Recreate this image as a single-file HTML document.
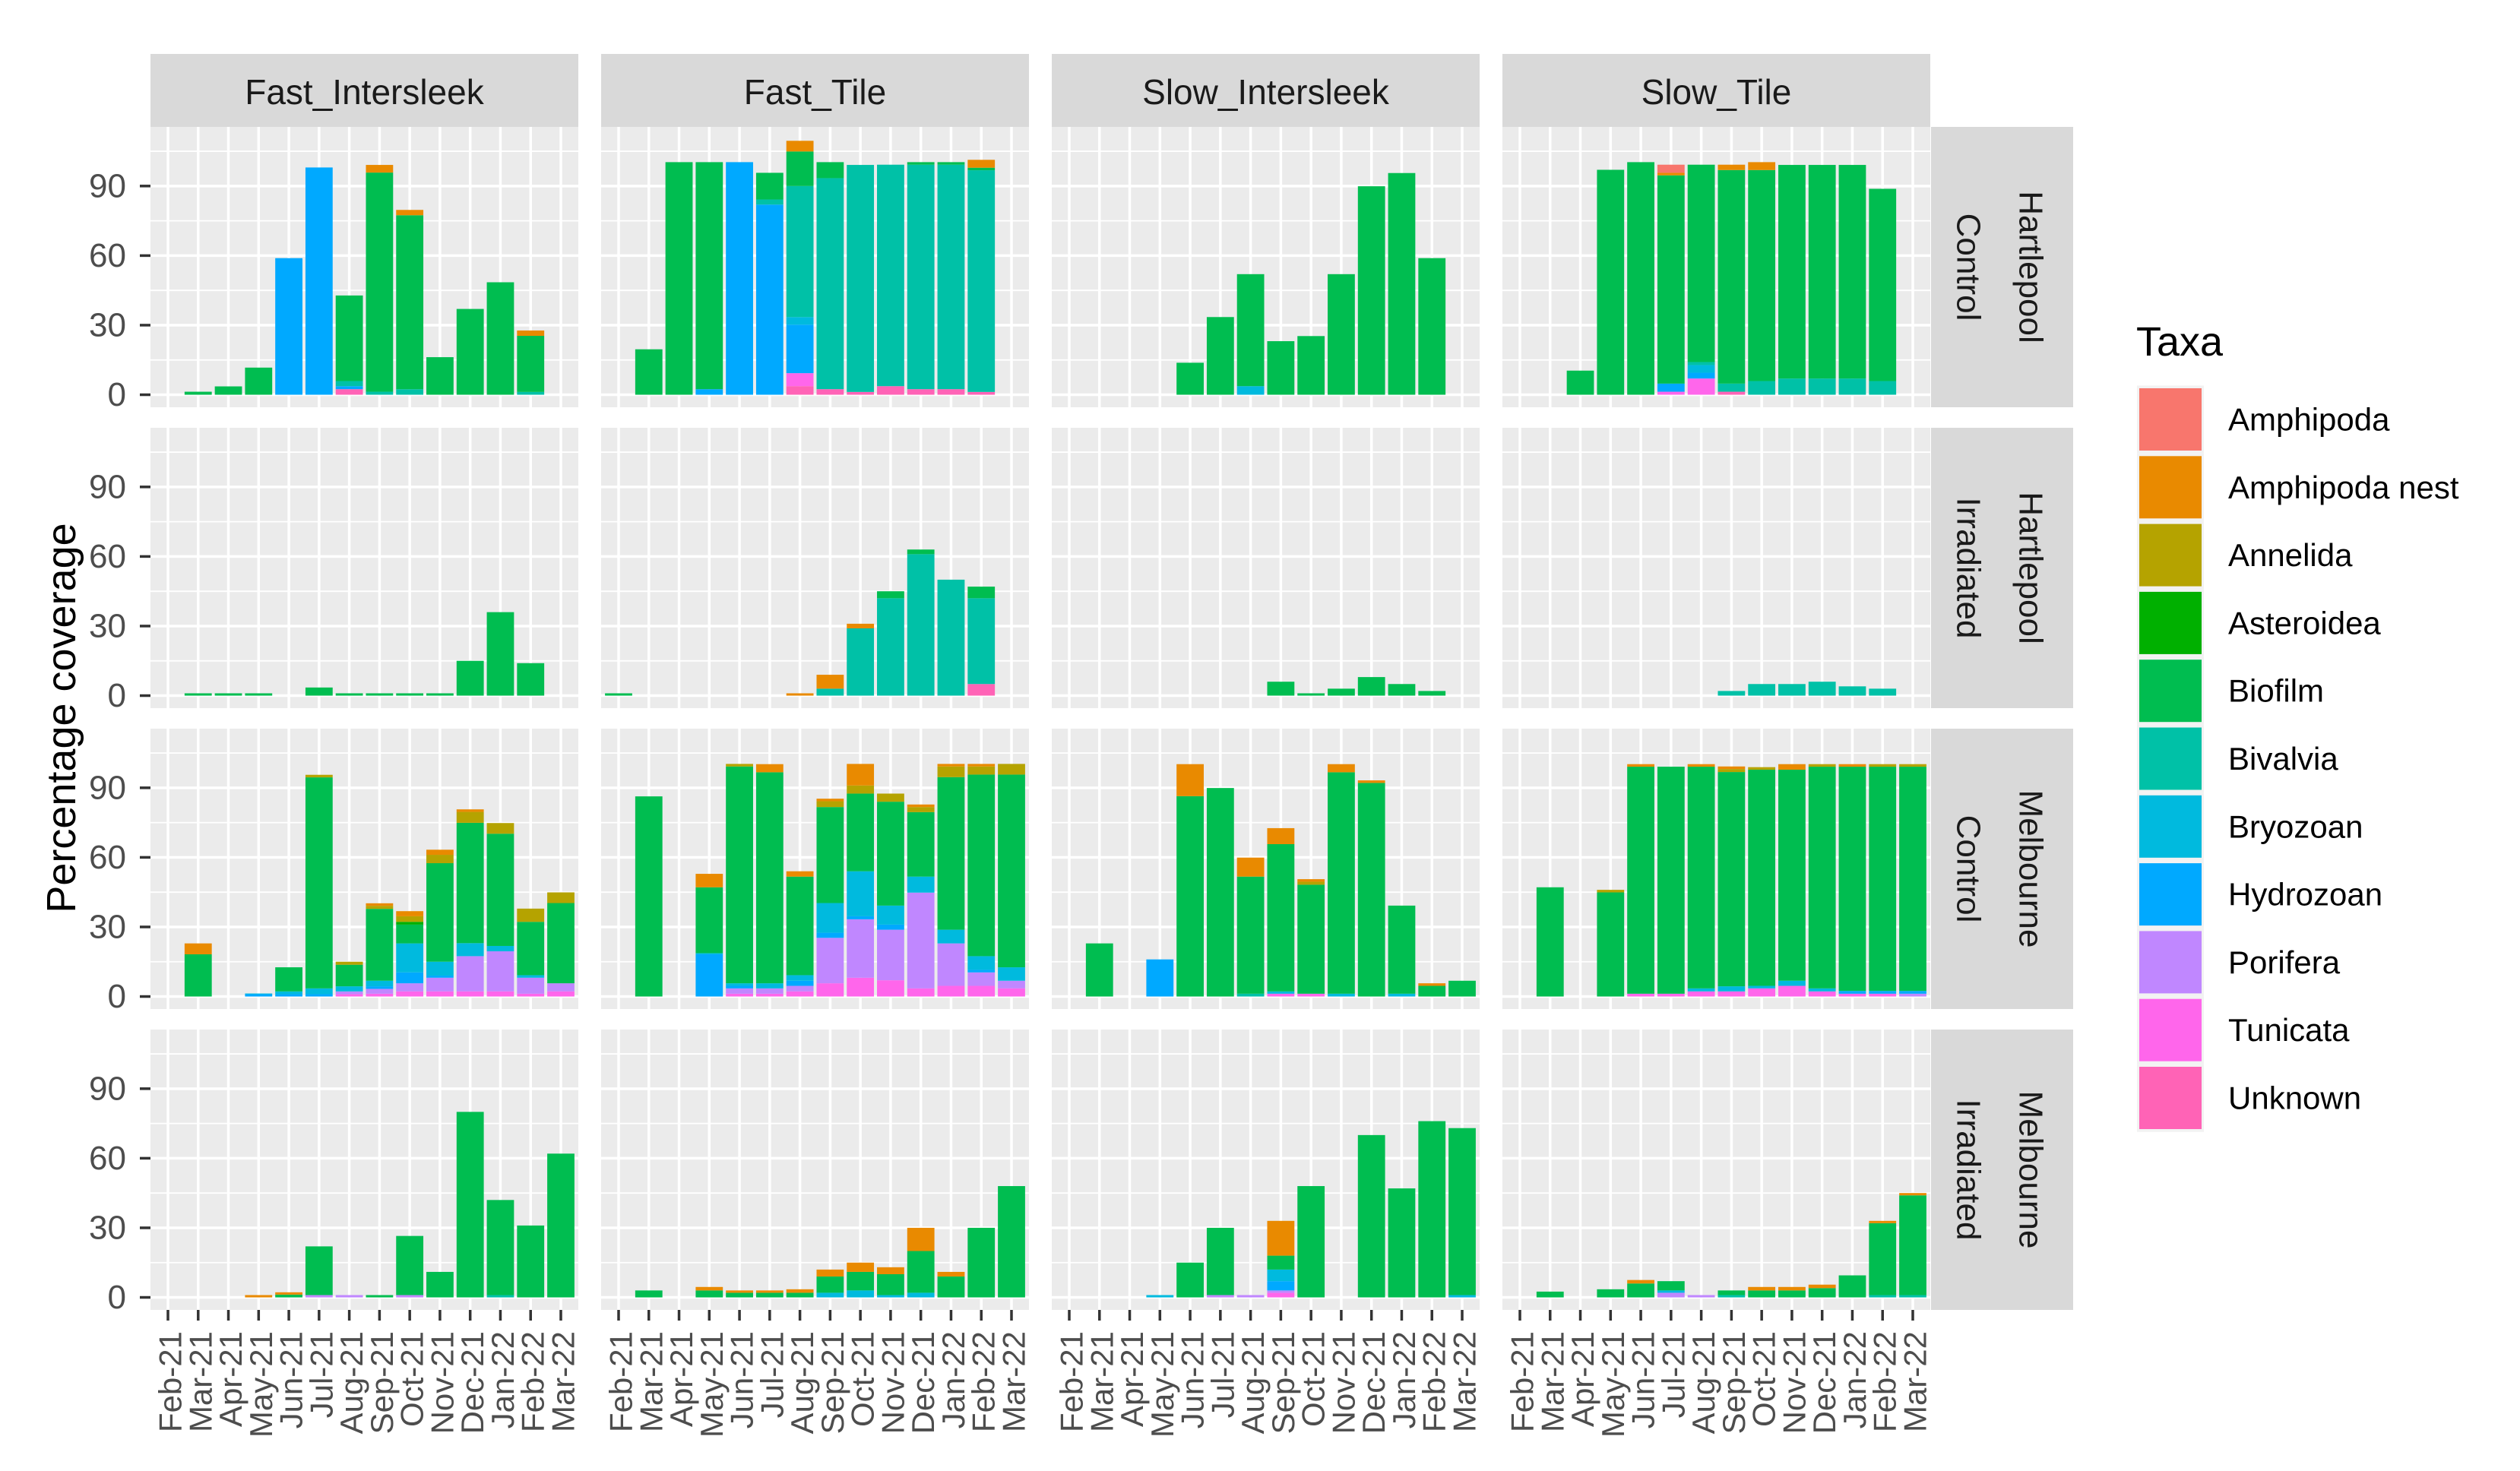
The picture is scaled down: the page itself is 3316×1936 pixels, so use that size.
<!DOCTYPE html>
<html><head><meta charset="utf-8"><title>Percentage coverage by taxa</title>
<style>
html,body{margin:0;padding:0;background:#fff;}
svg{display:block;font-family:"Liberation Sans",Arial,sans-serif;}
</style></head>
<body>
<svg id="chart" xmlns="http://www.w3.org/2000/svg" width="3316" height="1936" viewBox="0 0 3316 1936">
<rect x="0" y="0" width="3316" height="1936" fill="#fff"/>
<g id="panels"></g>
<text x="81" y="945" transform="rotate(-90 81 945)" text-anchor="middle" dominant-baseline="central" font-size="54" fill="#000">Percentage coverage</text>
<g id="legend"></g>
</svg>
<script>
const months = ["Feb-21","Mar-21","Apr-21","May-21","Jun-21","Jul-21","Aug-21","Sep-21","Oct-21","Nov-21","Dec-21","Jan-22","Feb-22","Mar-22"];
const taxa = ["Amphipoda","Amphipoda nest","Annelida","Asteroidea","Biofilm","Bivalvia","Bryozoan","Hydrozoan","Porifera","Tunicata","Unknown"];
const taxaColors = ["#F8766D","#E98A00","#B5A300","#00B000","#00BD50","#00C1A7","#00BADE","#00A9FF","#C087FF","#FF66EB","#FF63B6"];
const columns = ["Fast_Intersleek","Fast_Tile","Slow_Intersleek","Slow_Tile"];
const rowSites = ["Hartlepool","Hartlepool","Melbourne","Melbourne"];
const rowTreatments = ["Control","Irradiated","Control","Irradiated"];
const yTicks = [0,30,60,90];

// Row 1: Hartlepool Control
const hcFastInter = [
 ["Unknown",[0,0,0,0,0,0,2.4,0,0,0,0,0,0,0]],
 ["Hydrozoan",[0,0,0,0,58.9,98,1.3,0,0,0,0,0,0,0]],
 ["Bivalvia",[0,0,0,0,0,0,2.2,1.3,2.4,0,0,0,1.2,0]],
 ["Biofilm",[0,1.3,3.6,11.7,0,0,36.9,94.5,75,16.2,37,48.5,24.2,0]],
 ["Amphipoda nest",[0,0,0,0,0,0,0,3.3,2.3,0,0,0,2.3,0]]];
const hcFastTile = [
 ["Unknown",[0,0,0,0,0,0,3.7,2.4,1.2,3.7,2.4,2.4,1.2,0]],
 ["Tunicata",[0,0,0,0,0,0,5.6,0,0,0,0,0,0,0]],
 ["Hydrozoan",[0,0,0,2.4,100.3,82,20.9,0,0,0,0,0,0,0]],
 ["Bryozoan",[0,0,0,0,0,0,3.3,0,0,0,0,0,0,0]],
 ["Bivalvia",[0,0,0,0,0,2.2,56.5,91,97.9,95.5,96.8,96.8,95.6,0]],
 ["Biofilm",[0,19.6,100.3,97.9,0,11.5,14.9,6.9,0,0,1.1,1.1,1.1,0]],
 ["Amphipoda nest",[0,0,0,0,0,0,4.6,0,0,0,0,0,3.4,0]]];
const hcSlowInter = [
 ["Bryozoan",[0,0,0,0,0,0,3.7,0,0,0,0,0,0,0]],
 ["Biofilm",[0,0,0,0,13.8,33.5,48.3,23.1,25.3,52,89.9,95.6,58.9,0]]];
const hcSlowTile = [
 ["Unknown",[0,0,0,0,0,0,0,1.3,0,0,0,0,0,0]],
 ["Tunicata",[0,0,0,0,0,1.3,7,0,0,0,0,0,0,0]],
 ["Hydrozoan",[0,0,0,0,0,3.5,2.5,0,0,0,0,0,0,0]],
 ["Bryozoan",[0,0,0,0,0,0,3.3,0,0,0,0,0,0,0]],
 ["Bivalvia",[0,0,0,0,0,0,1.3,3.5,5.9,7,7,7,5.9,0]],
 ["Biofilm",[0,0,10.4,97,100.3,89.8,85.1,92.1,91,92.1,92.1,92.1,82.9,0]],
 ["Amphipoda nest",[0,0,0,0,0,1.1,0,2.3,3.4,0,0,0,0,0]],
 ["Amphipoda",[0,0,0,0,0,3.5,0,0,0,0,0,0,0,0]]];

// Row 2: Hartlepool Irradiated
const hiFastInter = [
 ["Biofilm",[0,1,1,1,0,3.5,1,1,1,1,15,36,14,0]]];
const hiFastTile = [
 ["Unknown",[0,0,0,0,0,0,0,0,0,0,0,0,5,0]],
 ["Bivalvia",[0,0,0,0,0,0,0,3,29,42,61,50,37,0]],
 ["Biofilm",[1,0,0,0,0,0,0,0,0,3,2,0,5,0]],
 ["Amphipoda nest",[0,0,0,0,0,0,1,6,2,0,0,0,0,0]]];
const hiSlowInter = [
 ["Biofilm",[0,0,0,0,0,0,0,6,1,3,8,5,2,0]]];
const hiSlowTile = [
 ["Bivalvia",[0,0,0,0,0,0,0,2,5,5,6,4,3,0]]];

// Row 3: Melbourne Control
const mcFastInter = [
 ["Tunicata",[0,0,0,0,0,0,1,1.2,2.2,2.2,2.2,2.2,1.2,2.2]],
 ["Porifera",[0,0,0,0,0,0,1.2,2.1,3.5,5.9,15.2,17.3,6.9,3.5]],
 ["Hydrozoan",[0,0,0,1,1,1,0,1.1,4.7,0.9,0,0,0,0]],
 ["Bryozoan",[0,0,0,0.3,1.2,2.5,2.2,2.4,12.5,6,5.6,2.3,1.1,0]],
 ["Biofilm",[0,18.2,0,0,10.4,91,9.3,31,8.1,42.5,51.9,48.4,23,34.6]],
 ["Asteroidea",[0,0,0,0,0,0,0,0,1.2,0,0,0,0,0]],
 ["Annelida",[0,0,0,0,0,1.1,1.3,1.3,2.4,3.6,4.7,4.6,5.7,4.6]],
 ["Amphipoda nest",[0,4.7,0,0,0,0,0,1.1,2.2,2.2,1.1,0,0,0]]];
const mcFastTile = [
 ["Tunicata",[0,0,0,0,1.2,1.2,2.2,5.7,8.1,7,3.5,4.6,4.6,3.5]],
 ["Porifera",[0,0,0,0,2.3,2.3,2.4,19.6,25.2,21.8,41.3,18.3,5.8,3.3]],
 ["Hydrozoan",[0,0,0,18.2,1.1,0,2.2,2.2,1.3,2.2,0,0,1.1,0]],
 ["Bryozoan",[0,0,0,0.5,1.1,2.2,2.4,12.8,19.4,8.2,6.9,5.9,5.9,5.8]],
 ["Biofilm",[0,86.3,0,28.4,93.5,91,42.5,41.4,33.5,44.8,27.8,65.8,78.3,83.1]],
 ["Annelida",[0,0,0,0,1.1,0,0,2.5,3.5,3.5,2.2,4.6,3.5,4.6]],
 ["Amphipoda nest",[0,0,0,5.8,0,3.5,2.3,1.1,9.3,0,1.1,1.1,1.1,0]]];
const mcSlowInter = [
 ["Tunicata",[0,0,0,0,0,0,0,1.2,1.2,0,0,0,0,0]],
 ["Hydrozoan",[0,0,0,16,0,0,0,0,0,0,0,0,0,0]],
 ["Bryozoan",[0,0,0,0,0,0,0,1,0,1.2,0,1.2,0,0]],
 ["Bivalvia",[0,0,0,0,0,0,1.2,0,0,0,0,0,0,0]],
 ["Biofilm",[0,22.9,0,0,86.4,89.9,50.5,63.5,47,95.5,92.1,38,4.6,6.8]],
 ["Annelida",[0,0,0,0,0,0,0,0,1.3,0,0,0,0,0]],
 ["Amphipoda nest",[0,0,0,0,13.8,0,8.2,6.9,1.1,3.5,1.1,0,1.1,0]]];
const mcSlowTile = [
 ["Tunicata",[0,0,0,0,1.2,1.2,2.2,2.2,3.5,4.6,2.2,1.2,1.2,0]],
 ["Porifera",[0,0,0,0,0,0,0,0,0,0,0,0,0,1.2]],
 ["Hydrozoan",[0,0,0,0,0,0,0,0,0,0,0,1.2,1.2,1.2]],
 ["Bryozoan",[0,0,0,0,0,0,1.3,2.2,1.1,2.2,1.3,0,0,0]],
 ["Biofilm",[0,47.1,0,44.9,97.9,97.9,95.6,92.4,93.2,91,95.6,96.7,96.7,96.7]],
 ["Annelida",[0,0,0,1.1,0,0,0,1.3,1.1,0,1.1,0,1.1,1.1]],
 ["Amphipoda nest",[0,0,0,0,1.1,0,1.1,1.1,0,2.4,0,1.1,0,0]]];

// Row 4: Melbourne Irradiated
const miFastInter = [
 ["Porifera",[0,0,0,0,0,1,1,0,1,0,0,0,0,0]],
 ["Bivalvia",[0,0,0,0,0,0,0,0,0,0,0,1,0,0]],
 ["Biofilm",[0,0,0,0,1.2,21,0,1,25.5,11,80,41,31,62]],
 ["Amphipoda nest",[0,0,0,1,1,0,0,0,0,0,0,0,0,0]]];
const miFastTile = [
 ["Bryozoan",[0,0,0,0,0,0,0,2,3,1,2,0,0,0]],
 ["Biofilm",[0,3,0,3,2,2,2,7,8,9,18,9,30,48]],
 ["Amphipoda nest",[0,0,0,1.5,1,1,1.5,3,4,3,10,2,0,0]]];
const miSlowInter = [
 ["Tunicata",[0,0,0,0,0,0,0,2,0,0,0,0,0,0]],
 ["Porifera",[0,0,0,0,0,1,1,1,0,0,0,0,0,0]],
 ["Hydrozoan",[0,0,0,0,0,0,0,4,0,0,0,0,0,0]],
 ["Bryozoan",[0,0,0,1,0,0,0,5,0,0,0,0,0,1]],
 ["Biofilm",[0,0,0,0,15,29,0,6,48,0,70,47,76,72]],
 ["Amphipoda nest",[0,0,0,0,0,0,0,15,0,0,0,0,0,0]]];
const miSlowTile = [
 ["Porifera",[0,0,0,0,0,2,1,0,0,0,0,0,0,0]],
 ["Bryozoan",[0,0,0,0,0,1,0,0,0,0,0,0,0,0]],
 ["Bivalvia",[0,0,0,0,0,0,0,1,0,0,0,0,1,1]],
 ["Biofilm",[0,2.5,0,3.5,6,4,0,2,3,3,4,9.5,31,43]],
 ["Amphipoda nest",[0,0,0,0,1.5,0,0,0,1.5,1.5,1.5,0,1,1]]];

const panelData = [
 [hcFastInter,hcFastTile,hcSlowInter,hcSlowTile],
 [hiFastInter,hiFastTile,hiSlowInter,hiSlowTile],
 [mcFastInter,mcFastTile,mcSlowInter,mcSlowTile],
 [miFastInter,miFastTile,miSlowInter,miSlowTile]];

const NS = "http://www.w3.org/2000/svg";
const colLeft = [198,791,1384,1977];
const rowTop = [167,563,959,1355];
const PW = 563, PH = 369;
const yMin = -5.4, yMax = 115.5;
const step = (PW - 46) / 13;
const barW = step * 0.9;
function yScale(v, top){ return top + (yMax - v) / (yMax - yMin) * PH; }
function xScale(i, left){ return left + 23 + i * step; }
function mk(tag, attrs, parent){
  const e = document.createElementNS(NS, tag);
  for (const k in attrs) e.setAttribute(k, attrs[k]);
  parent.appendChild(e);
  return e;
}
const panels = document.getElementById('panels');
const stackOrder = taxa.slice().reverse();

for (let c = 0; c < 4; c++){
  const L = colLeft[c];
  const sr = mk('rect',{x:L,y:71,width:PW,height:96,fill:'#d9d9d9'},panels);
  
  
  const st = mk('text',{x:L+PW/2,y:121,'text-anchor':'middle','dominant-baseline':'central','font-size':46,fill:'#1a1a1a'},panels);
  st.textContent = columns[c];
  
  
}
for (let r = 0; r < 4; r++){
  const T = rowTop[r];
  const rr = mk('rect',{x:2541,y:T,width:187,height:PH,fill:'#d9d9d9'},panels);
  
  
  const cy = T + PH/2;
  const t1 = mk('text',{x:2672,y:cy,transform:`rotate(90 2672 ${cy})`,'text-anchor':'middle','dominant-baseline':'central','font-size':44,fill:'#1a1a1a'},panels);
  t1.textContent = rowSites[r];
  
  
  const t2 = mk('text',{x:2590,y:cy,transform:`rotate(90 2590 ${cy})`,'text-anchor':'middle','dominant-baseline':'central','font-size':44,fill:'#1a1a1a'},panels);
  t2.textContent = rowTreatments[r];
  
  

  yTicks.forEach(v=>{
    const y = yScale(v,T);
    const tl = mk('text',{x:166,y:y,'text-anchor':'end','dominant-baseline':'central','font-size':44,fill:'#4d4d4d'},panels);
    tl.textContent = v;
    
    
    const tm = mk('line',{x1:184,x2:198,y1:y,y2:y,stroke:'#333',"stroke-width":3.5},panels);
    
    
  });

  for (let c = 0; c < 4; c++){
    const L = colLeft[c];
    const g = mk('g',{},panels);
    
    
    mk('rect',{x:L,y:T,width:PW,height:PH,fill:'#ebebeb'},g);
    [15,45,75,105].forEach(v=>{
      const y = yScale(v,T);
      mk('line',{x1:L,x2:L+PW,y1:y,y2:y,stroke:'#fff','stroke-width':1.8},g);
    });
    yTicks.forEach(v=>{
      const y = yScale(v,T);
      mk('line',{x1:L,x2:L+PW,y1:y,y2:y,stroke:'#fff','stroke-width':3.5},g);
    });
    months.forEach((m,i)=>{
      const x = xScale(i,L);
      mk('line',{x1:x,x2:x,y1:T,y2:T+PH,stroke:'#fff','stroke-width':3.5},g);
    });
    const series = panelData[r][c];
    months.forEach((m,i)=>{
      let acc = 0;
      stackOrder.forEach(tx=>{
        const s = series.find(p=>p[0]===tx);
        if (!s) return;
        const v = s[1][i];
        if (!v) return;
        const y0 = yScale(acc,T), y1 = yScale(acc+v,T);
        acc += v;
        const b = mk('rect',{x:xScale(i,L)-barW/2,y:y1,width:barW,height:Math.max(0,y0-y1),fill:taxaColors[taxa.indexOf(tx)]},g);
        
        
      });
    });
  }
}
for (let c = 0; c < 4; c++){
  const L = colLeft[c];
  months.forEach((m,i)=>{
    const x = xScale(i,L);
    const tm = mk('line',{x1:x,x2:x,y1:1724,y2:1738,stroke:'#333','stroke-width':3.5},panels);
    
    
    const tx = x + 3;
    const tl = mk('text',{x:tx,y:1752,transform:`rotate(-90 ${tx} 1752)`,'text-anchor':'end','dominant-baseline':'central','font-size':42,fill:'#4d4d4d'},panels);
    tl.textContent = m;
    
    
  });
}
const lg = document.getElementById('legend');
const lt = mk('text',{x:2811,y:468,'font-size':54,fill:'#000'},lg);
lt.textContent = 'Taxa';


taxa.forEach((t,k)=>{
  const cy = 552 + k*89.3;
  const e = mk('g',{},lg);
  
  
  mk('rect',{x:2812,y:cy-44.6,width:88,height:89.3,fill:'#f2f2f2'},e);
  mk('rect',{x:2815,y:cy-41,width:82,height:82,fill:taxaColors[k]},e);
  const tx = mk('text',{x:2932,y:cy,'dominant-baseline':'central','font-size':42,fill:'#000'},e);
  tx.textContent = t;
});
</script>
</body></html>
